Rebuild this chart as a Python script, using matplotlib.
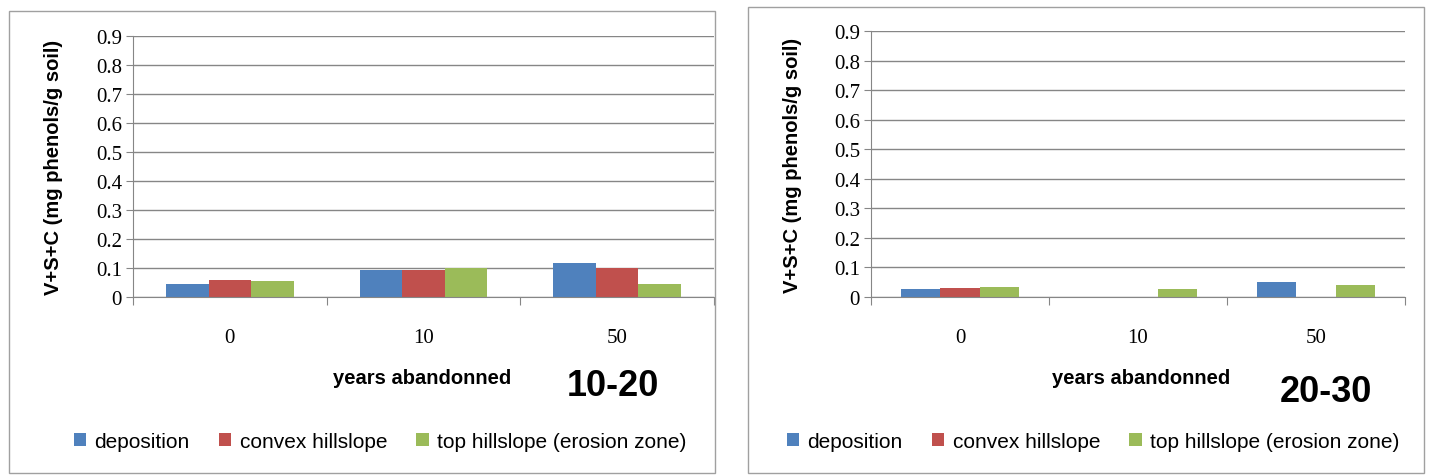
import matplotlib.pyplot as plt
from matplotlib.patches import Rectangle
import numpy as np

plt.rcParams['font.family'] = ['Liberation Sans Narrow', 'Liberation Sans', 'DejaVu Sans']

# data
years = ['0', '10', '50']
series = ['deposition', 'convex hillslope', 'top hillslope (erosion zone)']
colors = ['#4F81BD', '#C0504D', '#9BBB59']

depth_1020 = {
    'deposition': [0.046, 0.093, 0.117],
    'convex hillslope': [0.060, 0.093, 0.101],
    'top hillslope (erosion zone)': [0.055, 0.100, 0.046],
}
depth_2030 = {
    'deposition': [0.026, 0.0, 0.052],
    'convex hillslope': [0.029, 0.0, 0.0],
    'top hillslope (erosion zone)': [0.034, 0.026, 0.039],
}
yticks = [0, 0.1, 0.2, 0.3, 0.4, 0.5, 0.6, 0.7, 0.8, 0.9]
ytick_labels = ['0', '0.1', '0.2', '0.3', '0.4', '0.5', '0.6', '0.7', '0.8', '0.9']

W, H = 1430, 477
fig = plt.figure(figsize=(W / 100, H / 100), dpi=100)
serif = ['Liberation Serif', 'DejaVu Serif']


def px(x0, y0, x1, y1):
    # pixel box (top-left origin) -> figure fraction rect
    return [x0 / W, 1 - y1 / H, (x1 - x0) / W, (y1 - y0) / H]


def panel(border, axbox, data, label, ylab_x, xlab_pos, tag_pos, leg_pos):
    r = px(*border)
    fig.patches.append(Rectangle((r[0], r[1]), r[2], r[3], transform=fig.transFigure,
                                 fill=False, edgecolor='#A0A0A0', linewidth=1.0))
    ax = fig.add_axes(px(*axbox))
    x = np.arange(len(years))
    w = 0.22
    for i, s in enumerate(series):
        ax.bar(x + (i - 1) * w, data[s], width=w, color=colors[i], label=s)
    ax.set_xlim(-0.5, len(years) - 0.5)
    ax.set_ylim(0, 0.9)
    ax.set_yticks(yticks)
    ax.set_yticklabels(ytick_labels, fontsize=15, family=serif)
    ax.set_xticks([-0.5, 0.5, 1.5, 2.5])
    ax.set_xticklabels([])
    ax.set_xticks(x, minor=True)
    ax.set_xticklabels(years, minor=True, fontsize=15, family=serif)
    ax.tick_params(axis='x', which='minor', length=0, pad=22)
    ax.tick_params(axis='x', which='major', length=6, color='#868686', direction='out')
    ax.tick_params(axis='y', length=5, color='#868686', pad=3)
    ax.yaxis.grid(True, color='#868686', linewidth=1.0)
    ax.set_axisbelow(True)
    for sp in ['top', 'right']:
        ax.spines[sp].set_visible(False)
    for sp in ['left', 'bottom']:
        ax.spines[sp].set_color('#868686')
    fig.text(ylab_x / W, 1 - (axbox[1] + axbox[3]) / 2 / H, 'V+S+C (mg phenols/g soil)',
             rotation=90, ha='center', va='center', fontsize=14.5, fontweight='bold')
    fig.text(xlab_pos[0] / W, 1 - xlab_pos[1] / H, 'years abandonned',
             ha='center', va='center', fontsize=14.5, fontweight='bold')
    fig.text(tag_pos[0] / W, 1 - tag_pos[1] / H, label,
             ha='center', va='center', fontsize=26, fontweight='bold')
    ax.legend(loc='center', bbox_to_anchor=(leg_pos[0] / W, 1 - leg_pos[1] / H),
              bbox_transform=fig.transFigure, ncol=3, frameon=False, fontsize=15,
              handlelength=0.6, handleheight=0.6, handletextpad=0.4, columnspacing=1.4)
    return ax


panel((9, 12, 715, 474), (133, 37, 714, 298), depth_1020, '10-20',
      54, (422, 379), (613, 387), (380, 442))
panel((748, 8, 1424, 474), (871, 32, 1405, 298), depth_2030, '20-30',
      793, (1141, 379), (1326, 393), (1093, 442))

fig.savefig('out.png', dpi=100)
